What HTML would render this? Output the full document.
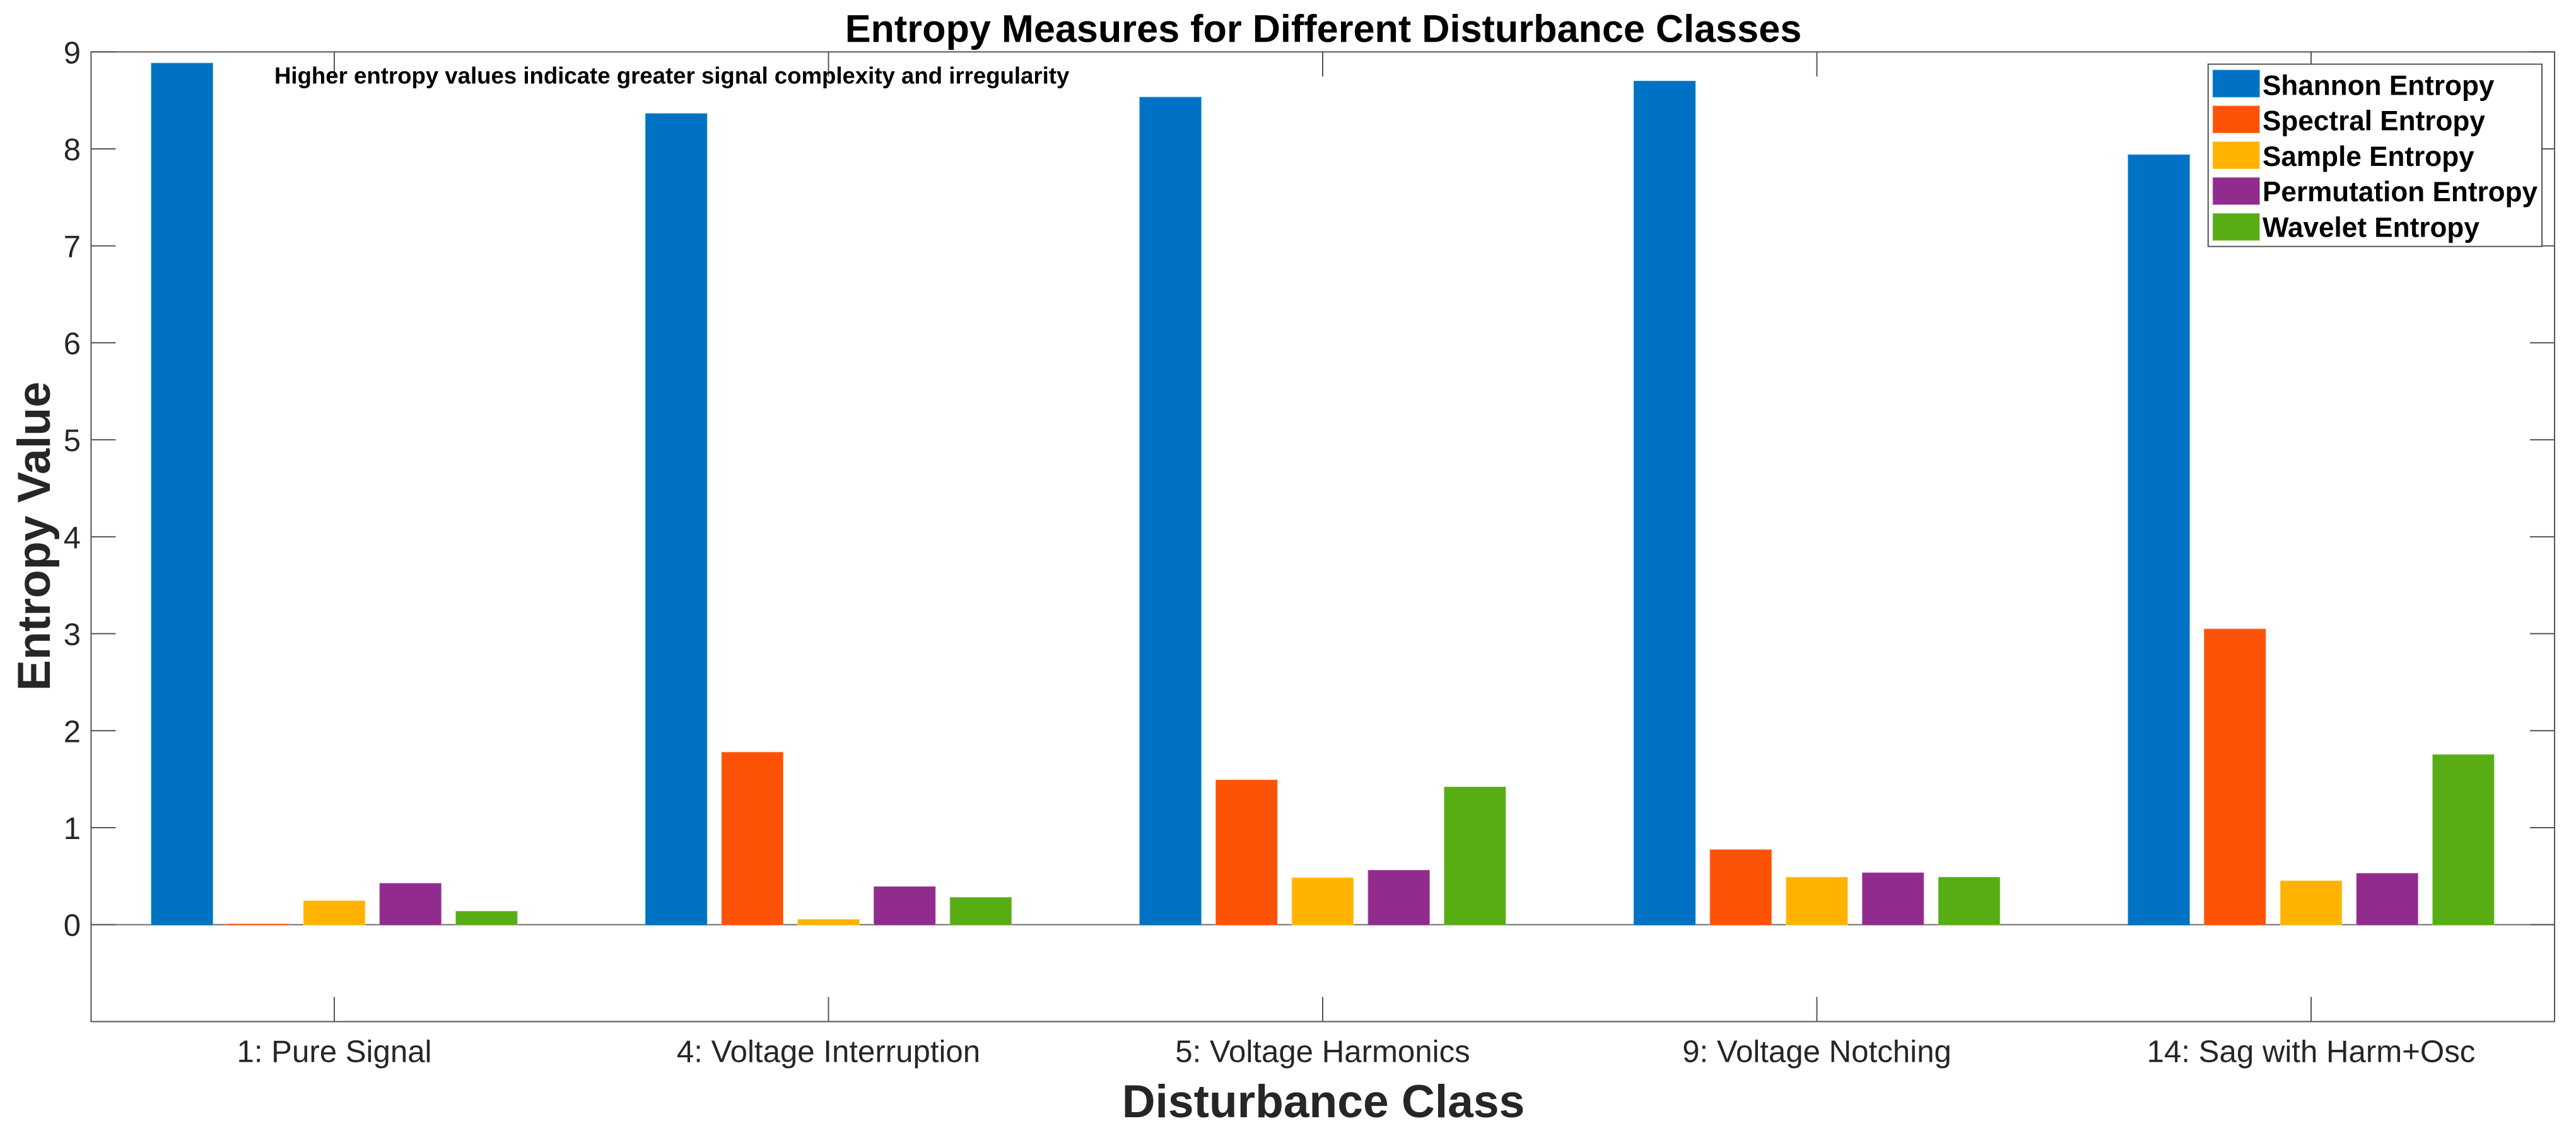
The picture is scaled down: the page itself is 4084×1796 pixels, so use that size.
<!DOCTYPE html>
<html lang="en">
<head>
<meta charset="utf-8">
<title>Entropy Measures for Different Disturbance Classes</title>
<style>
  html, body { margin: 0; padding: 0; background: #fff; }
  svg { display: block; }
  text { font-family: "Liberation Sans", Arial, sans-serif; }
</style>
</head>
<body>
<svg id="chart" xmlns="http://www.w3.org/2000/svg" width="4084" height="1796" viewBox="0 0 4084 1796">
  <rect x="0" y="0" width="4084" height="1796" fill="#ffffff"/>
  <rect x="144.4" y="82.3" width="3905.6" height="1537.1" fill="#ffffff"/>
  <g id="marks"></g>
  <g id="axes"></g>
  <text x="2098" y="66.5" font-size="61.2" font-weight="700" fill="#000000" text-anchor="middle">Entropy Measures for Different Disturbance Classes</text>
  <text transform="translate(79 850) rotate(-90)" font-size="73.5" font-weight="700" fill="#262626" text-anchor="middle">Entropy Value</text>
  <text x="2098" y="1771" font-size="73.2" font-weight="700" fill="#262626" text-anchor="middle">Disturbance Class</text>
  <text x="435" y="132.3" font-size="36.6" font-weight="700" fill="#000000">Higher entropy values indicate greater signal complexity and irregularity</text>
  <g id="legend"></g>
</svg>
<script>
const categories = ['1: Pure Signal', '4: Voltage Interruption', '5: Voltage Harmonics', '9: Voltage Notching', '14: Sag with Harm+Osc'];
const seriesNames = ['Shannon Entropy', 'Spectral Entropy', 'Sample Entropy', 'Permutation Entropy', 'Wavelet Entropy'];
const shannonEntropy = [8.885, 8.365, 8.534, 8.70, 7.94];
const spectralEntropy = [0.008, 1.779, 1.493, 0.774, 3.05];
const sampleEntropy = [0.247, 0.055, 0.484, 0.49, 0.453];
const permutationEntropy = [0.427, 0.393, 0.562, 0.536, 0.53];
const waveletEntropy = [0.139, 0.282, 1.421, 0.49, 1.755];
const yTickLabels = [0, 1, 2, 3, 4, 5, 6, 7, 8, 9];

const allSeries = [shannonEntropy, spectralEntropy, sampleEntropy, permutationEntropy, waveletEntropy];
const fills = ['#0072c3', '#fc5205', '#ffb300', '#922b8e', '#58ac14'];
const edges = ['#35a5dc', '#fd9a75', '#ffd77a', '#c084bf', '#a4d286'];

const NS = 'http://www.w3.org/2000/svg';
const plot = { left: 144.4, right: 4050, top: 82.3, bottom: 1619.4 };
const yDomain = { min: -1, max: 9 };
const catStep = 783.5;
const firstCatX = 530;
const barOffset = 120.7;
const barWidth = 97.7;
const tickLen = 39;
const axisColor = '#555555';

function yScale(v) {
  return plot.bottom - (v - yDomain.min) / (yDomain.max - yDomain.min) * (plot.bottom - plot.top);
}
function xScale(i) {
  return firstCatX + i * catStep;
}
function make(tag, parent) {
  const el = document.createElementNS(NS, tag);
  parent.appendChild(el);
  return el;
}
function setLine(el, x1, y1, x2, y2, color, w) {
  el.setAttribute('x1', x1);
  el.setAttribute('y1', y1);
  el.setAttribute('x2', x2);
  el.setAttribute('y2', y2);
  el.setAttribute('stroke', color);
  el.setAttribute('stroke-width', w);
}

const axes = document.getElementById('axes');
const marks = document.getElementById('marks');
const legend = document.getElementById('legend');

/* Zero baseline sits beneath the bars */
const baseline = make('line', marks);


setLine(baseline, plot.left, yScale(0), plot.right, yScale(0), '#6e6e6e', 2);

/* Bars */
allSeries.forEach(function (values, s) {
  values.forEach(function (v, c) {
    const bar = make('rect', marks);
    
    
    const cx = xScale(c) + (s - 2) * barOffset;
    const top = yScale(v);
    const bottom = yScale(0) + 1;
    bar.setAttribute('x', cx - barWidth / 2);
    bar.setAttribute('y', top);
    bar.setAttribute('width', barWidth);
    bar.setAttribute('height', Math.max(bottom - top, 0));
    bar.setAttribute('fill', fills[s]);
    bar.setAttribute('stroke', edges[s]);
    bar.setAttribute('stroke-width', 0.8);
  });
});

/* Axes box */
const box = make('rect', axes);


box.setAttribute('x', plot.left);
box.setAttribute('y', plot.top);
box.setAttribute('width', plot.right - plot.left);
box.setAttribute('height', plot.bottom - plot.top);
box.setAttribute('fill', 'none');
box.setAttribute('stroke', axisColor);
box.setAttribute('stroke-width', 2);

/* Y ticks and labels */
yTickLabels.forEach(function (t) {
  const y = yScale(t);
  const left = make('line', axes);
  
  
  setLine(left, plot.left, y, plot.left + tickLen, y, axisColor, 2);
  const right = make('line', axes);
  
  
  setLine(right, plot.right, y, plot.right - tickLen, y, axisColor, 2);
  const label = make('text', axes);
  
  
  label.setAttribute('x', 128);
  label.setAttribute('y', y + 18);
  label.setAttribute('font-size', 49);
  label.setAttribute('fill', '#262626');
  label.setAttribute('text-anchor', 'end');
  label.textContent = String(t);
});

/* X ticks and labels */
categories.forEach(function (name, c) {
  const x = xScale(c);
  const bottomTick = make('line', axes);
  
  
  setLine(bottomTick, x, plot.bottom, x, plot.bottom - tickLen, axisColor, 2);
  const topTick = make('line', axes);
  
  
  setLine(topTick, x, plot.top, x, plot.top + tickLen, axisColor, 2);
  const label = make('text', axes);
  
  
  label.setAttribute('x', x);
  label.setAttribute('y', 1683.3);
  label.setAttribute('font-size', 49.2);
  label.setAttribute('fill', '#262626');
  label.setAttribute('text-anchor', 'middle');
  label.textContent = name;
});

/* Legend */
const legendBox = make('rect', legend);


legendBox.setAttribute('x', 3500.8);
legendBox.setAttribute('y', 101.7);
legendBox.setAttribute('width', 529.2);
legendBox.setAttribute('height', 289);
legendBox.setAttribute('fill', '#ffffff');
legendBox.setAttribute('stroke', axisColor);
legendBox.setAttribute('stroke-width', 2);

seriesNames.forEach(function (name, s) {
  const swatch = make('rect', legend);
  
  
  swatch.setAttribute('x', 3508.2);
  swatch.setAttribute('y', 111 + s * 56.8);
  swatch.setAttribute('width', 74.2);
  swatch.setAttribute('height', 43);
  swatch.setAttribute('fill', fills[s]);
  swatch.setAttribute('stroke', edges[s]);
  swatch.setAttribute('stroke-width', 0.8);
  const label = make('text', legend);
  
  
  label.setAttribute('x', 3587);
  label.setAttribute('y', 150.5 + s * 56.2);
  label.setAttribute('font-size', 44.1);
  label.setAttribute('font-weight', 700);
  label.setAttribute('fill', '#000000');
  label.textContent = name;
});
</script>
</body>
</html>
